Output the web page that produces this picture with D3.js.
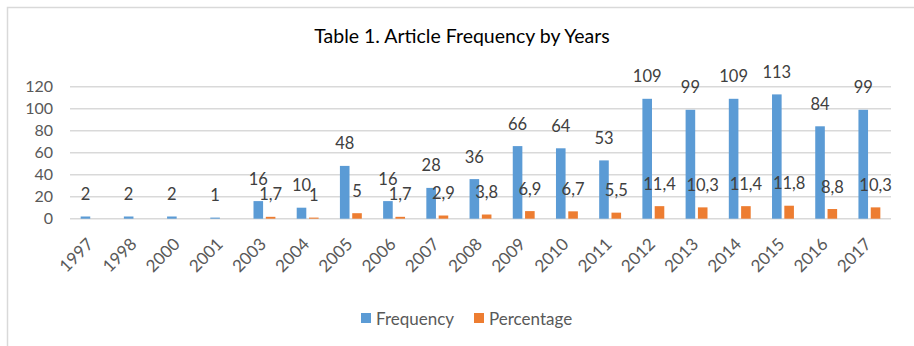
<!DOCTYPE html>
<html>
<head>
<meta charset="utf-8">
<script src="https://cdn.jsdelivr.net/npm/d3@7"></script>
<style>
  html, body { margin: 0; padding: 0; background: #fff; }
  svg { display: block; font-family: Lato, "Open Sans", sans-serif; }
</style>
</head>
<body>
<div id="chart"></div>
<script>
const years = ["1997","1998","2000","2001","2003","2004","2005","2006","2007","2008","2009","2010","2011","2012","2013","2014","2015","2016","2017"];
const frequency = [2,2,2,1,16,10,48,16,28,36,66,64,53,109,99,109,113,84,99];
const percentage = [null,null,null,null,1.7,1,5,1.7,2.9,3.8,6.9,6.7,5.5,11.4,10.3,11.4,11.8,8.8,10.3];
const seriesNames = ["Frequency","Percentage"];
const seriesColors = ["#5B9BD5","#ED7D31"];
const yTicks = [0,20,40,60,80,100,120];
const title = "Table 1. Article Frequency by Years";

const W = 914, H = 346;
const svg = d3.select("#chart").append("svg").attr("width", W).attr("height", H);

svg.append("rect").attr("x", 7.5).attr("y", 7.5).attr("width", 930).attr("height", 400)
  .attr("fill", "#fff").attr("stroke", "#d9d9d9").attr("stroke-width", 1.5);

const x = d3.scaleBand().domain(years).range([70, 891]).paddingInner(0).paddingOuter(0);
const bw = x.bandwidth();
const x1 = d3.scaleBand().domain(seriesNames).range([bw/2 - 10.95, bw/2 + 10.95]).paddingInner(0.22);
const y = d3.scaleLinear().domain([0,120]).range([218.7, 86.7]);

// gridlines
svg.append("g").selectAll("line").data(yTicks).join("line")
  .attr("x1", 70).attr("x2", 891)
  .attr("y1", d => y(d)).attr("y2", d => y(d))
  .attr("stroke", "#d9d9d9").attr("stroke-width", 1.5);

// y tick labels
svg.append("g").selectAll("text").data(yTicks).join("text")
  .attr("x", 53).attr("y", d => y(d)).attr("dy", "0.36em")
  .attr("text-anchor", "end").attr("font-size", 16).attr("fill", "#595959")
  .text(d => d);

const data = years.map((yr, i) => ({year: yr, vals: [frequency[i], percentage[i]]}));

const groups = svg.append("g").selectAll("g").data(data).join("g")
  .attr("transform", d => `translate(${x(d.year)},0)`);

groups.selectAll("rect").data(d => d.vals.map((v, j) => ({v, j})).filter(e => e.v != null)).join("rect")
  .attr("x", e => x1(seriesNames[e.j]))
  .attr("width", x1.bandwidth())
  .attr("y", e => y(e.v))
  .attr("height", e => y(0) - y(e.v))
  .attr("fill", e => seriesColors[e.j]);

groups.selectAll("text").data(d => d.vals.map((v, j) => ({v, j})).filter(e => e.v != null)).join("text")
  .attr("x", e => x1(seriesNames[e.j]) + x1.bandwidth()/2)
  .attr("y", e => y(e.v) - 16.5)
  .attr("text-anchor", "middle").attr("font-size", 16.5).attr("fill", "#404040")
  .text(e => String(e.v).replace(".", ","));

// x axis labels
svg.append("g").selectAll("text").data(years).join("text")
  .attr("transform", d => `translate(${x(d) + bw/2 - 1.5},${241}) rotate(-45)`)
  .attr("text-anchor", "end").attr("dy", "0.36em")
  .attr("font-size", 17).attr("fill", "#595959")
  .text(d => d);

// title
svg.append("text").attr("x", 462).attr("y", 43).attr("text-anchor", "middle")
  .attr("font-size", 19.5).attr("fill", "#000").text(title);

// legend
const legendX = [361, 474];
const lg = svg.append("g").selectAll("g").data(seriesNames).join("g")
  .attr("transform", (d, i) => `translate(${legendX[i]},313)`);
lg.append("rect").attr("width", 10).attr("height", 10).attr("fill", (d, i) => seriesColors[i]);
lg.append("text").attr("x", 15).attr("y", 11.5).attr("font-size", 17).attr("fill", "#595959").text(d => d);
</script>
</body>
</html>
